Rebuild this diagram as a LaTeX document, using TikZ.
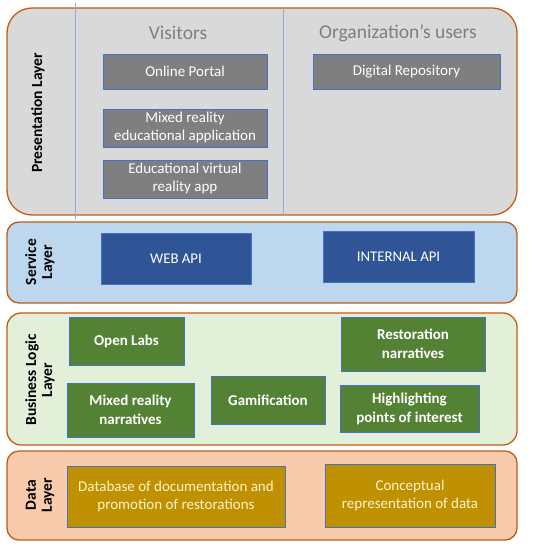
\documentclass[tikz,border=0pt]{standalone}
\usepackage{fontspec}
\setmainfont{Carlito}
\usetikzlibrary{positioning}
\definecolor{layerborder}{HTML}{C55A11}
\definecolor{presfill}{HTML}{D9D9D9}
\definecolor{servfill}{HTML}{BDD7EE}
\definecolor{logicfill}{HTML}{E2F0D9}
\definecolor{datafill}{HTML}{F8CBAD}
\definecolor{greybox}{HTML}{7F7F7F}
\definecolor{bluebox}{HTML}{2F5597}
\definecolor{greenbox}{HTML}{548235}
\definecolor{goldbox}{HTML}{BF9000}
\definecolor{boxedge}{HTML}{4472C4}
\definecolor{sepline}{HTML}{8FAADC}
\definecolor{creamtext}{HTML}{FFF2CC}
\definecolor{headtext}{HTML}{7F7F7F}
\tikzset{
  layer/.style={draw=layerborder, line width=1.3bp},
  comp/.style={draw=boxedge, line width=0.8bp, text=white, align=center, inner sep=2bp,
    font=\fontsize{15bp}{18bp}\selectfont},
  greycomp/.style={comp, fill=greybox},
  bluecomp/.style={comp, fill=bluebox, font=\fontsize{14.8bp}{18bp}\selectfont},
  greencomp/.style={comp, fill=greenbox, font=\fontsize{15bp}{19bp}\selectfont\bfseries},
  goldcomp/.style={comp, fill=goldbox, text=creamtext, font=\fontsize{15bp}{18.5bp}\selectfont},
  layerlabel/.style={rotate=90, align=center, font=\fontsize{15.5bp}{16bp}\selectfont\bfseries},
  heading/.style={text=headtext, font=\fontsize{19.5bp}{22bp}\selectfont}
}
\begin{document}
\begin{tikzpicture}[x=1bp,y=-1bp]
\useasboundingbox (0,0) rectangle (535,550);
% layers
\draw[layer, fill=presfill, rounded corners=25bp] (7,8) rectangle (517,215);
\draw[layer, fill=servfill, rounded corners=12bp] (7,222) rectangle (517,303);
\draw[layer, fill=logicfill, rounded corners=14bp] (7,313) rectangle (517,445);
\draw[layer, fill=datafill, rounded corners=12bp] (7,451) rectangle (517,540);
% separators
\draw[sepline, line width=0.6bp] (75,3) -- (75,219);
\draw[sepline, line width=0.6bp] (283,8) -- (283,215);
% layer labels
\node[layerlabel] (plab) at (38,113) {Presentation Layer};
\node[layerlabel] (slab) at (40,262) {Service\\Layer};
\node[layerlabel] (blab) at (40,380) {Business Logic\\Layer};
\node[layerlabel] (dlab) at (40,495) {Data\\Layer};
% headings
\node[heading] (vis) at (178,33) {Visitors};
\node[heading] (org) at (398,33) {Organization’s users};
% presentation
\node[greycomp, minimum width=164bp, minimum height=35bp] (op) at (185,71.5) {Online Portal};
\node[greycomp, minimum width=164bp, minimum height=38bp] (mr) at (185,128) {Mixed reality\\educational application};
\node[greycomp, minimum width=164bp, minimum height=38bp] (vr) at (185,179) {Educational virtual\\reality app};
\node[greycomp, minimum width=187bp, minimum height=35bp] (dr) at (406.5,71.5) {Digital Repository};
% service
\node[bluecomp, minimum width=150bp, minimum height=51bp] (web) at (176,258.5) {WEB API};
\node[bluecomp, minimum width=151bp, minimum height=51bp] (int) at (398.5,256.5) {INTERNAL API};
% business logic
\node[greencomp, minimum width=115bp, minimum height=48bp] (ol) at (126.5,341) {Open Labs};
\node[greencomp, minimum width=144bp, minimum height=54bp] (rn) at (413,344) {Restoration\\narratives};
\node[greencomp, minimum width=127bp, minimum height=54bp] (mn) at (130.5,410) {Mixed reality\\narratives};
\node[greencomp, minimum width=114bp, minimum height=48bp] (gm) at (268,400) {Gamification};
\node[greencomp, minimum width=139bp, minimum height=47bp] (hp) at (409.5,408.5) {Highlighting\\points of interest};
% data
\node[goldcomp, minimum width=218bp, minimum height=61bp] (db) at (176,496.5) {Database of documentation and\\promotion of restorations};
\node[goldcomp, minimum width=170bp, minimum height=63bp] (cr) at (410,495.5) {Conceptual\\representation of data};
\end{tikzpicture}
\end{document}
